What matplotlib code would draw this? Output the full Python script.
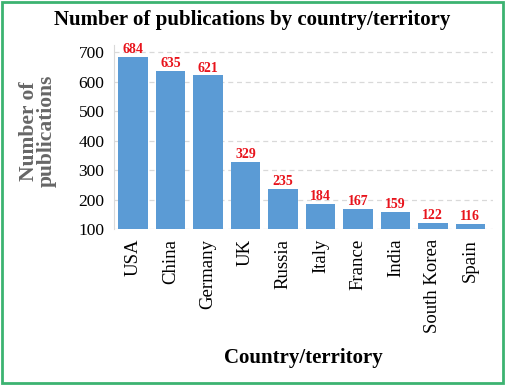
import matplotlib.pyplot as plt
from matplotlib.patches import Rectangle

countries = ['USA', 'China', 'Germany', 'UK', 'Russia', 'Italy', 'France', 'India', 'South Korea', 'Spain']
publications = [684, 635, 621, 329, 235, 184, 167, 159, 122, 116]
yticks = [100, 200, 300, 400, 500, 600, 700]

plt.rcParams['font.family'] = ['Liberation Serif', 'DejaVu Serif']

fig = plt.figure(figsize=(5.05, 3.85), dpi=100)
ax = fig.add_axes([0.226, 0.405, 0.75, 0.478])

x = range(len(countries))
bars = ax.bar(x, publications, width=0.78, color='#5B9BD5', zorder=3)
for xi, v in zip(x, publications):
    ax.text(xi, v + 3, str(v), ha='center', va='bottom', color='#e8141c',
            fontsize=10, fontweight='bold', zorder=4)

ax.set_ylim(100, 724)
ax.set_xlim(-0.5, len(countries) - 0.4)
ax.set_yticks(yticks)
ax.set_xticks(list(x))
ax.set_xticklabels(countries, rotation=90, fontsize=13.5)
ax.tick_params(axis='y', labelsize=12.5, length=0, pad=7)
ax.tick_params(axis='x', length=0, pad=7)
ax.yaxis.grid(True, linestyle=(0, (4, 3)), color='#d9d9d9', linewidth=0.9, zorder=0)
for s in ['top', 'right', 'bottom']:
    ax.spines[s].set_visible(False)
ax.spines['left'].set_color('#d9d9d9')
ax.spines['left'].set_linewidth(0.8)

fig.text(0.5, 0.948, 'Number of publications by country/territory', ha='center',
         va='center', fontsize=15, fontweight='bold')
fig.text(0.075, 0.66, 'Number of\npublications', rotation=90, ha='center',
         va='center', fontsize=15.5, fontweight='bold', color='#666666',
         linespacing=0.9)
fig.text(0.6, 0.07, 'Country/territory', ha='center', va='center',
         fontsize=15, fontweight='bold')

fig.patches.append(Rectangle((0.004, 0.005), 0.992, 0.99, transform=fig.transFigure,
                             fill=False, edgecolor='#3cb371', linewidth=2))

fig.savefig('out.png', dpi=100)
